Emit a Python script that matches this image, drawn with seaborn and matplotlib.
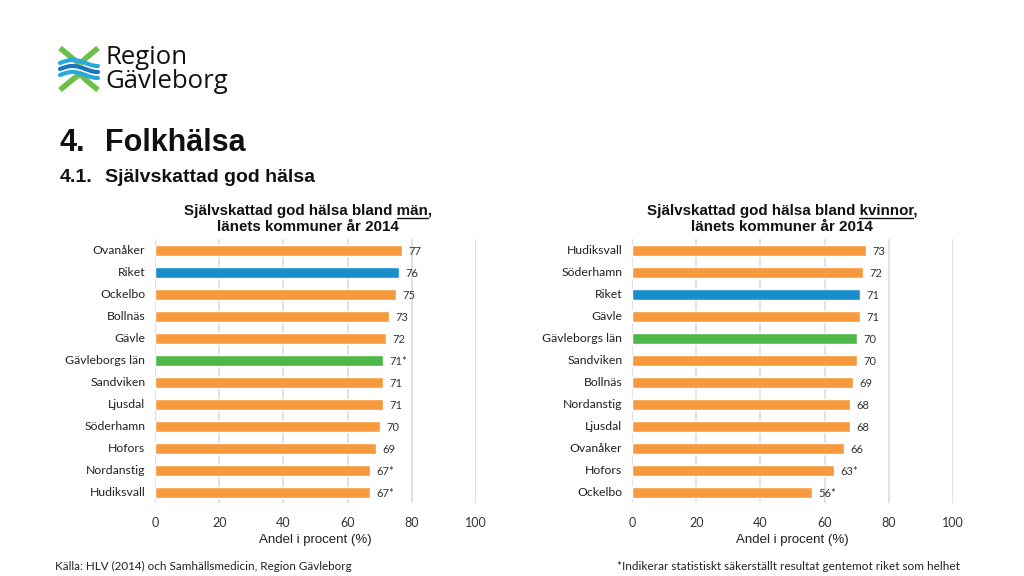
import numpy as np
import pandas as pd
import matplotlib
matplotlib.use("Agg")
import matplotlib.pyplot as plt
import seaborn as sns

# ---------------- data ----------------
men_names = ["Ovanåker", "Riket", "Ockelbo", "Bollnäs", "Gävle", "Gävleborgs län",
             "Sandviken", "Ljusdal", "Söderhamn", "Hofors", "Nordanstig", "Hudiksvall"]
men_values = [77, 76, 75, 73, 72, 71, 71, 71, 70, 69, 67, 67]
men_labels = ["77", "76", "75", "73", "72", "71*", "71", "71", "70", "69", "67*", "67*"]

women_names = ["Hudiksvall", "Söderhamn", "Riket", "Gävle", "Gävleborgs län", "Sandviken",
               "Bollnäs", "Nordanstig", "Ljusdal", "Ovanåker", "Hofors", "Ockelbo"]
women_values = [73, 72, 71, 71, 70, 70, 69, 68, 68, 66, 63, 56]
women_labels = ["73", "72", "71", "71", "70", "70", "69", "68", "68", "66", "63*", "56*"]

x_ticks = [0, 20, 40, 60, 80, 100]

ORANGE = "#F79A3E"
BLUE = "#1A8DCB"
GREEN = "#4DB848"


def color_for(name):
    if name == "Riket":
        return BLUE
    if name == "Gävleborgs län":
        return GREEN
    return ORANGE


sns.set_theme(style="white")
plt.rcParams["font.family"] = ["Liberation Sans", "DejaVu Sans"]

fig = plt.figure(figsize=(10.24, 5.76), dpi=100)
W, H = 1024, 576


def fx(px):
    return px / W


def fy(py):
    return 1 - py / H


def draw_panel(left_px, names, values, labels):
    ax = fig.add_axes([fx(left_px), fy(503), fx(321), (503 - 239) / H])
    df = pd.DataFrame({"name": names, "value": values})
    pal = {n: color_for(n) for n in names}
    sns.barplot(data=df, x="value", y="name", hue="name", palette=pal,
                order=names, hue_order=names, dodge=False, legend=False,
                width=0.5, saturation=1, ax=ax, orient="h")
    ax.set_xlim(0, 100)
    ax.set_xticks(x_ticks)
    ax.xaxis.grid(True, color="#DCDCDC", linewidth=1.2)
    ax.set_axisbelow(True)
    for s in ax.spines.values():
        s.set_visible(False)
    ax.tick_params(axis="x", length=0, pad=10, labelsize=9, colors="#333333")
    ax.tick_params(axis="y", length=0, pad=7)
    for lab in ax.get_yticklabels():
        lab.set_fontfamily(["Lato", "DejaVu Sans"])
        lab.set_fontsize(8.8)
        lab.set_color("#222222")
    for lab in ax.get_xticklabels():
        lab.set_fontfamily(["Lato", "DejaVu Sans"])
    ax.set_ylabel("")
    ax.set_xlabel("Andel i procent (%)", fontsize=9.5, color="#222222", labelpad=4)
    for i, (v, t) in enumerate(zip(values, labels)):
        ax.annotate(t, xy=(v, i), xytext=(4.5, -1.2), textcoords="offset points",
                    va="center", ha="left", fontsize=8, color="#333333",
                    family=["Lato", "DejaVu Sans"])
    return ax


ax1 = draw_panel(155, men_names, men_values, men_labels)
ax2 = draw_panel(632, women_names, women_values, women_labels)

TFS = 10.9


def panel_title(cx_px, word):
    line1 = f"Självskattad god hälsa bland {word},"
    t1 = fig.text(fx(cx_px), fy(211), line1, ha="center", va="center",
                  fontsize=TFS, fontweight="bold", color="#111111")
    fig.text(fx(cx_px), fy(227), "länets kommuner år 2014", ha="center", va="center",
             fontsize=TFS, fontweight="bold", color="#111111")
    fig.canvas.draw()
    r = fig.canvas.get_renderer()
    bb = t1.get_window_extent(r)
    tw = fig.text(0, 0, f"{word},", fontsize=TFS, fontweight="bold")
    tc = fig.text(0, 0, ",", fontsize=TFS, fontweight="bold")
    w_word = tw.get_window_extent(r).width
    w_comma = tc.get_window_extent(r).width
    tw.remove()
    tc.remove()
    x0 = (bb.x1 - w_word) / W
    x1 = (bb.x1 - w_comma) / W
    y = (bb.y0 + 0.5) / H
    fig.add_artist(plt.Line2D([x0, x1], [y, y], transform=fig.transFigure,
                              color="#111111", linewidth=1))


panel_title(308, "män")
panel_title(782, "kvinnor")

# headings
fig.text(fx(60), fy(143), "4.", fontsize=22, fontweight="bold", va="center", color="#111111")
fig.text(fx(105), fy(143), "Folkhälsa", fontsize=22, fontweight="bold", va="center", color="#111111")
fig.text(fx(60), fy(177), "4.1.", fontsize=14, fontweight="bold", va="center", color="#111111")
fig.text(fx(105), fy(177), "Självskattad god hälsa", fontsize=14, fontweight="bold", va="center", color="#111111")

# footers
fig.text(fx(55), fy(566), "Källa: HLV (2014) och Samhällsmedicin, Region Gävleborg",
         fontsize=8.4, va="center", family=["Lato", "DejaVu Sans"], color="#222222")
fig.text(fx(960), fy(566), "*Indikerar statistiskt säkerställt resultat gentemot riket som helhet",
         fontsize=8.5, va="center", ha="right", family=["Lato", "DejaVu Sans"], color="#222222")

# logo (decorative)
lax = fig.add_axes([fx(58), fy(94), fx(44), (94 - 44) / H])
lax.set_xlim(0, 44)
lax.set_ylim(0, 50)
lax.axis("off")
lax.plot([2, 14, 22], [46, 36, 30], color="#6CC04A", lw=4, solid_capstyle="butt")
lax.plot([40, 28, 22], [46, 36, 30], color="#6CC04A", lw=4, solid_capstyle="butt")
lax.plot([2, 14, 22], [4, 14, 20], color="#6CC04A", lw=4, solid_capstyle="butt")
lax.plot([40, 28, 22], [4, 14, 20], color="#6CC04A", lw=4, solid_capstyle="butt")
xs = np.linspace(2, 40, 50)
for k, c in enumerate(["#29A8E0", "#1B75BB", "#29A8E0"]):
    lax.plot(xs, 31 - k * 6 + 3 * np.sin((xs - 2) / 38 * np.pi * 1.5), color=c, lw=3)
fig.text(fx(105), fy(57), "Region", fontsize=18.5, va="center", family=["Open Sans", "DejaVu Sans"], color="#111111")
fig.text(fx(105), fy(82), "Gävleborg", fontsize=18.5, va="center", family=["Open Sans", "DejaVu Sans"], color="#111111")

fig.savefig("out.png", dpi=100)
